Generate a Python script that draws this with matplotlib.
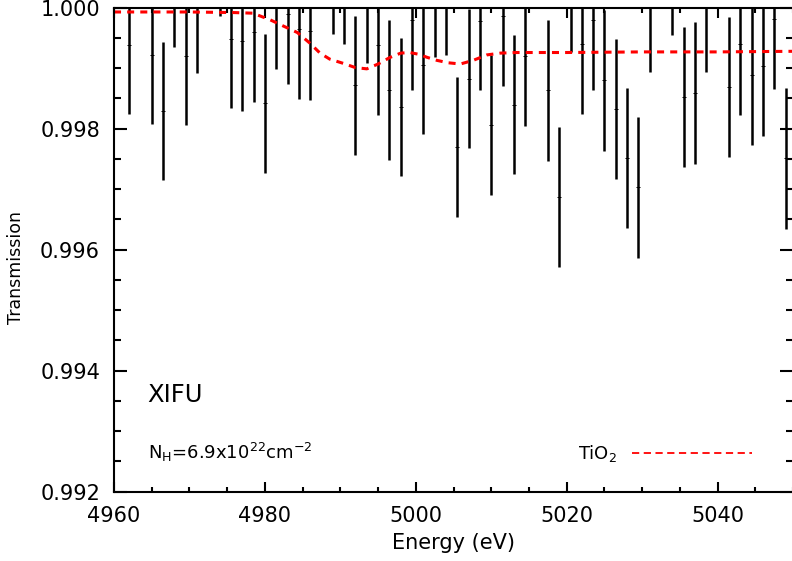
import numpy as np
import matplotlib
matplotlib.use("Agg")
import matplotlib.pyplot as plt
from matplotlib.ticker import MultipleLocator

plt.rcParams['font.family'] = ['DejaVu Sans']
plt.rcParams['mathtext.fontset'] = 'dejavusans'

# binned transmission points (energy in eV, value, 1-sigma error)
energy = [4962.0, 4965.0, 4966.5, 4968.0, 4969.5, 4971.0, 4974.0, 4975.5, 4977.0,
          4978.5, 4980.0, 4981.5, 4983.0, 4984.5, 4986.0, 4989.0, 4990.5, 4992.0,
          4993.5, 4995.0, 4996.5, 4998.0, 4999.5, 5001.0, 5002.5, 5004.0, 5005.5,
          5007.0, 5008.5, 5010.0, 5011.5, 5013.0, 5014.5, 5017.5, 5019.0, 5020.5,
          5022.0, 5023.5, 5025.0, 5026.5, 5028.0, 5029.5, 5031.0, 5034.0, 5035.5,
          5037.0, 5038.5, 5041.5, 5043.0, 5044.5, 5046.0, 5047.5, 5049.0]
trans = [0.999388, 0.999213, 0.998291, 1.000500, 0.999201, 1.000069, 1.001012, 0.999487, 0.999449,
         0.999593, 0.998419, 1.000142, 0.999891, 0.999648, 0.999620, 1.000721, 1.000546, 0.998716,
         1.000233, 0.999383, 0.998639, 0.998362, 0.999797, 0.999057, 1.000342, 1.000366, 0.997691,
         0.998825, 0.999785, 0.998055, 0.999863, 0.998395, 0.999201, 0.998634, 0.996873, 1.000420,
         0.999404, 0.999797, 0.998799, 0.998324, 0.997514, 0.997034, 1.000106, 1.000706, 0.998518,
         0.998589, 1.000099, 0.998688, 0.999395, 0.998892, 0.999036, 0.999818, 0.997510]
err = [0.001146, 0.001141, 0.001146, 0.001150, 0.001146, 0.001150, 0.001150, 0.001151, 0.001153,
       0.001148, 0.001148, 0.001150, 0.001148, 0.001153, 0.001146, 0.001150, 0.001150, 0.001153,
       0.001153, 0.001158, 0.001153, 0.001146, 0.001153, 0.001151, 0.001153, 0.001153, 0.001158,
       0.001151, 0.001151, 0.001158, 0.001163, 0.001151, 0.001153, 0.001165, 0.001158, 0.001158,
       0.001168, 0.001158, 0.001165, 0.001163, 0.001163, 0.001163, 0.001160, 0.001160, 0.001158,
       0.001170, 0.001163, 0.001163, 0.001175, 0.001163, 0.001163, 0.001163, 0.001166]

# TiO2 edge model
model_e = [4960.0, 4970.0, 4976.0, 4978.4, 4980.7, 4982.4, 4984.3, 4986.0, 4987.3, 4988.6,
           4990.4, 4992.0, 4993.5, 4995.0, 4996.6, 4998.0, 4999.2, 5000.4, 5001.5, 5002.8,
           5004.3, 5005.9, 5007.6, 5009.4, 5011.2, 5013.4, 5020.0, 5030.0, 5040.0, 5050.0]
model_t = [0.99993, 0.99993, 0.99992, 0.99991, 0.99980, 0.99970, 0.99959, 0.99941, 0.99925, 0.99915,
           0.99908, 0.99901, 0.99899, 0.99907, 0.99918, 0.99925, 0.99926, 0.99923, 0.99918, 0.99913,
           0.99909, 0.99907, 0.99913, 0.99922, 0.99925, 0.99926, 0.99926, 0.99927, 0.99927, 0.99928]

fig = plt.figure(figsize=(7.92, 5.61), dpi=100)
# right spine sits just past the right edge of the canvas
ax = fig.add_axes([0.14394, 0.1235, 0.8575, 0.8627])

e = np.array(energy)
t = np.array(trans)
s = np.array(err)
ax.vlines(e, t - s, t + s, color='black', linewidth=1.8)
ax.plot(e, t, linestyle='none', marker='_', markersize=3, markeredgewidth=0.7, color='black')

ax.plot(model_e, model_t, color='red', linewidth=2.2, dashes=(2.3, 2.0))

ax.set_xlim(4960, 5050)
ax.set_ylim(0.992, 1.000)
ax.xaxis.set_major_locator(MultipleLocator(20))
ax.xaxis.set_minor_locator(MultipleLocator(5))
ax.yaxis.set_major_locator(MultipleLocator(0.002))
ax.yaxis.set_minor_locator(MultipleLocator(0.0005))
ax.yaxis.set_major_formatter(plt.FuncFormatter(lambda v, p: f"{v:.3f}"))

for sp in ax.spines.values():
    sp.set_linewidth(1.5)
ax.tick_params(axis='both', which='both', direction='in', top=True, right=True, width=1.5)
ax.tick_params(axis='x', which='major', length=7.2, labelsize=15, pad=10)
ax.tick_params(axis='x', which='minor', length=3.6)
ax.tick_params(axis='y', which='major', length=9.1, labelsize=15, pad=10)
ax.tick_params(axis='y', which='minor', length=4.8)

ax.set_xlabel('Energy (eV)', fontsize=15, labelpad=5)
ax.set_ylabel('Transmission', fontsize=12.5)
ax.yaxis.set_label_coords(-0.131, 0.464)

ax.text(0.0486, 0.186, 'XIFU', transform=ax.transAxes, fontsize=17.5, va='baseline')
ax.text(0.05, 0.067, r'N$_{\mathregular{H}}$=6.9x10$^{\mathregular{22}}$cm$^{\mathregular{-2}}$',
        transform=ax.transAxes, fontsize=13, va='baseline')
ax.text(0.741, 0.067, r'TiO$_{\mathregular{2}}$', transform=ax.transAxes, fontsize=13,
        va='baseline', ha='right')
ax.plot([0.762, 0.940], [0.0806, 0.0806], transform=ax.transAxes, color='red',
        linewidth=1.3, dashes=(4, 2.5))

fig.savefig('out.png', dpi=100)
